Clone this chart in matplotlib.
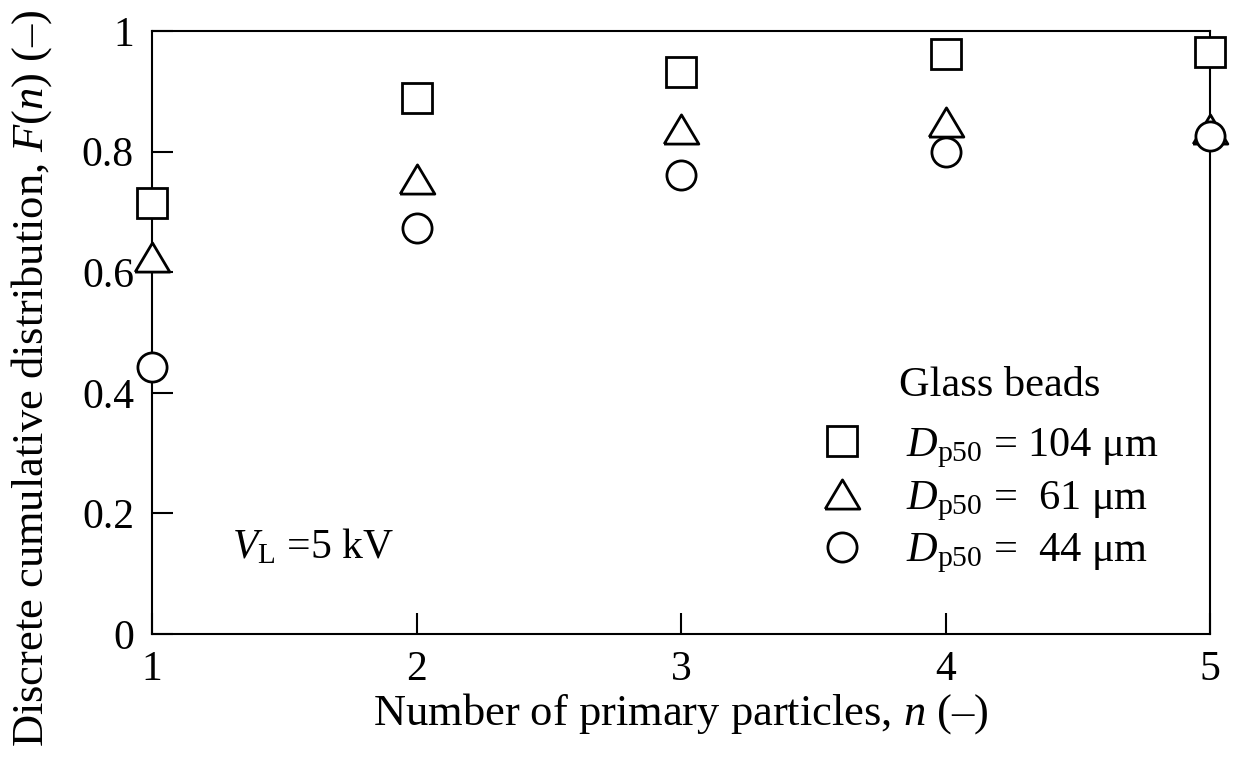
import matplotlib.pyplot as plt

plt.rcParams['font.family'] = ['Liberation Serif', 'DejaVu Serif']
plt.rcParams['mathtext.fontset'] = 'custom'
plt.rcParams['mathtext.rm'] = 'Liberation Serif'
plt.rcParams['mathtext.it'] = 'Liberation Serif:italic'

# discrete cumulative distribution for each bead size
n = [1, 2, 3, 4, 5]
f_104 = [0.714, 0.889, 0.932, 0.962, 0.965]
f_61 = [0.625, 0.754, 0.837, 0.849, 0.837]
f_44 = [0.442, 0.673, 0.761, 0.799, 0.826]

labels = [r'$D_{\mathrm{p50}}$ = 104 μm',
          r'$D_{\mathrm{p50}}$ =  61 μm',
          r'$D_{\mathrm{p50}}$ =  44 μm']

# a slightly flattened triangle
tri = [(-1, -0.84), (1, -0.84), (0, 0.84), (-1, -0.84)]

fig = plt.figure(figsize=(12.42, 7.62), dpi=100)
ax = fig.add_axes([0.1224, 0.168, 0.852, 0.7913])

style = dict(linestyle='none', markerfacecolor='white', markeredgecolor='black',
             markeredgewidth=2, clip_on=False, zorder=5)
ax.plot(n, f_104, marker='s', markersize=21, label=labels[0], **style)
ax.plot(n, f_61, marker=tri, markersize=25, label=labels[1], **style)
ax.plot(n, f_44, marker='o', markersize=21, label=labels[2], **style)

ax.set_xlim(1, 5)
ax.set_ylim(0, 1)
ax.set_xticks(n)
ax.set_yticks([0, 0.2, 0.4, 0.6, 0.8, 1])
ax.set_yticklabels(['0', '0.2', '0.4', '0.6', '0.8', '1'])

for sp in ax.spines.values():
    sp.set_linewidth(1.5)
ax.tick_params(direction='in', length=15, width=1.5, labelsize=30)
ax.tick_params(axis='y', pad=13)
ax.tick_params(axis='x', pad=12)

ax.set_xlabel(r'Number of primary particles, $n$ (–)', fontsize=32, labelpad=1)
ax.set_ylabel(r'Discrete cumulative distribution, $F$($n$) (–)', fontsize=32, labelpad=20)
ax.yaxis.label.set_y(0.4245)

ax.text(0.0756, 0.126, r'$V_{\mathrm{L}}$ =5 kV', transform=ax.transAxes,
        fontsize=30, va='baseline')

ax.text(0.8015, 0.412, 'Glass beads', transform=ax.transAxes, fontsize=30.5,
        ha='center', va='center')
ax.legend(loc='lower right', bbox_to_anchor=(0.971, 0.062), frameon=False,
          borderpad=0, fontsize=30.5, handlelength=1.0, handletextpad=1.0,
          labelspacing=0.22, markerscale=1.0)

fig.savefig('out.png', dpi=100)
